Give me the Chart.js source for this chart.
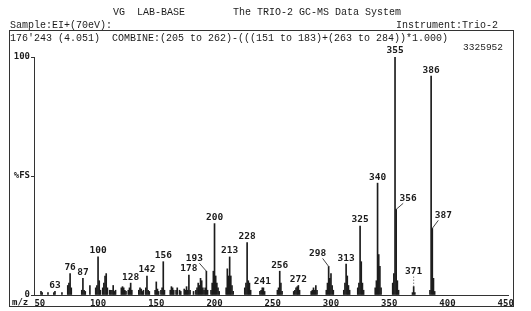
<!DOCTYPE html>
<html>
<head>
<meta charset="utf-8">
<script src="https://cdn.jsdelivr.net/npm/chart.js@4.4.0/dist/chart.umd.min.js"></script>
<style>
  html, body { margin: 0; padding: 0; background: #fff; }
  canvas { display: block; }
</style>
</head>
<body>
<canvas id="spectrum" width="531" height="311"></canvas>
<script>
// m/z of every peak and its relative intensity (% of full scale)
const mzValues = [
  51, 52, 57, 62, 63, 69, 74, 75, 76, 77, 86, 87, 88, 89, 93, 98, 99, 100, 101, 102,
  104, 105, 106, 107, 108, 110, 111, 112, 113, 114, 115, 120, 121, 122, 123, 124, 126, 127, 128, 129,
  135, 136, 137, 138, 139, 141, 142, 143, 144, 149, 150, 151, 152, 154, 155, 156, 157, 162, 163, 164,
  165, 167, 168, 170, 171, 174, 175, 176, 177, 178, 179, 182, 184, 185, 186, 187, 188, 189, 190, 191,
  192, 193, 194, 197, 198, 199, 200, 201, 202, 203, 204, 210, 211, 212, 213, 214, 215, 216, 226, 227,
  228, 229, 230, 231, 239, 240, 241, 242, 243, 254, 255, 256, 257, 258, 268, 269, 270, 271, 272, 273,
  283, 284, 285, 286, 287, 288, 296, 297, 298, 299, 300, 301, 302, 311, 312, 313, 314, 315, 316, 323,
  324, 325, 326, 327, 328, 338, 339, 340, 341, 342, 343, 353, 354, 355, 356, 357, 358, 370, 371, 372,
  385, 386, 387, 388, 389
];
const intensities = [
  1.5, 1, 1, 1, 1.5, 1, 4, 5, 9, 3, 2, 7, 2, 1.5, 4, 3, 4, 16, 6, 2,
  3, 5, 8, 9, 3, 2, 2, 2, 4, 1.5, 2, 3, 3.5, 3, 2, 1.5, 2, 3, 5, 2,
  2, 3, 2.5, 1.5, 2, 3, 8, 2, 1.5, 2, 5.5, 2.5, 1.5, 2, 3, 14, 2, 2, 3.5, 3,
  2, 2, 3, 2, 1.5, 2.5, 2, 3.5, 2, 8.4, 2, 1.5, 2, 3, 5, 4, 7, 6, 3, 2,
  3, 10, 2, 2, 5, 10, 30, 8, 5, 3, 1.5, 3, 11, 8, 16, 8, 4, 1.5, 3, 5,
  22, 6, 5, 2, 1.5, 2, 3, 3, 1.5, 2, 3, 10, 5, 1.5, 1.5, 2, 3, 3.5, 4, 2,
  1.5, 2, 3, 2, 4, 2, 2, 5, 12, 7, 9, 4, 2, 2, 5, 13, 8, 4, 2, 3,
  5, 29, 14, 5, 2, 3, 6, 47, 17, 12, 3, 5, 9, 100, 36, 6, 2, 1, 3.5, 1,
  2, 92, 28, 7, 1.5
];
// peaks that carry a printed m/z label
const labelledPeaks = [63, 76, 87, 100, 128, 142, 156, 178, 193, 200, 213, 228, 241, 256, 272, 298, 313, 325, 340, 355, 356, 371, 386, 387];
const xTickValues = [50, 100, 150, 200, 250, 300, 350, 400, 450];
const yTickValues = [0, 50, 100];
const yTickLabels = ['0', '%FS', '100'];

const headerTitle = 'VG  LAB-BASE';
const headerSystem = 'The TRIO-2 GC-MS Data System';
const sampleText = 'Sample:EI+(70eV):';
const instrumentText = 'Instrument:Trio-2';
const scanText = "176'243 (4.051)  COMBINE:(205 to 262)-(((151 to 183)+(263 to 284))*1.000)";
const fullScaleText = '3325952';

const ink = '#1c1c1c';
const mono = '"Liberation Mono", "DejaVu Sans Mono", monospace';
const smallFont = { family: '"DejaVu Sans Mono", monospace', size: 9, weight: 'bold' };
const peakFont = 'bold 9.5px "DejaVu Sans Mono", monospace';

// labels that are pushed away from their peak, joined by a leader line
const labelNudge = {
  193: { dx: -12, dy: -7, leader: 'solid' },
  298: { dx: -11, dy: -7, leader: 'solid' },
  356: { dx: 12, dy: -5, leader: 'solid' },
  387: { dx: 11, dy: -7, leader: 'solid' },
  371: { dx: 0, dy: -9, leader: 'dotted' },
};

const decorations = {
  id: 'decorations',
  afterDraw(chart) {
    const c = chart.ctx;
    c.save();
    c.fillStyle = ink;
    c.textBaseline = 'middle';
    c.font = '10px ' + mono;
    c.textAlign = 'left';
    c.fillText(headerTitle, 113, 12);
    c.fillText(headerSystem, 233, 12);
    c.fillText(sampleText, 10, 25);
    c.fillText(scanText, 10, 38);
    c.textAlign = 'right';
    c.fillText(instrumentText, 498, 25);
    c.font = '9.5px ' + mono;
    c.fillText(fullScaleText, 503, 47);

    // frame around the plot
    c.strokeStyle = '#333';
    c.lineWidth = 1;
    c.strokeRect(9.5, 30.5, 504, 276);

    c.font = 'bold 9px "DejaVu Sans Mono", monospace';
    c.textAlign = 'left';
    c.fillText('m/z', 12, 303);
    c.restore();
  },
  afterDatasetsDraw(chart) {
    const c = chart.ctx;
    const xs = chart.scales.x;
    const ys = chart.scales.y;
    c.save();
    c.fillStyle = ink;
    c.strokeStyle = '#444';
    c.lineWidth = 1;
    c.font = peakFont;
    c.textAlign = 'center';
    c.textBaseline = 'middle';
    labelledPeaks.forEach(m => {
      const v = intensities[mzValues.indexOf(m)];
      const px = xs.getPixelForValue(m);
      const py = ys.getPixelForValue(v);
      const n = labelNudge[m];
      if (n) {
        const lx = px + n.dx;
        const ly = py - 6 + n.dy;
        c.fillText(String(m), lx, ly);
        c.beginPath();
        if (n.leader === 'dotted') c.setLineDash([1, 2]);
        c.moveTo(lx + (n.dx < 0 ? 5 : n.dx > 0 ? -5 : 0), ly + 5);
        c.lineTo(px, py);
        c.stroke();
        c.setLineDash([]);
      } else {
        c.fillText(String(m), px, py - 6);
      }
    });
    c.restore();
  }
};

const ctx = document.getElementById('spectrum').getContext('2d');
new Chart(ctx, {
  type: 'bar',
  data: {
    datasets: [{
      data: mzValues.map((m, i) => ({ x: m, y: intensities[i] })),
      backgroundColor: ink,
      barThickness: 1,
      grouped: false,
    }],
  },
  options: {
    responsive: false,
    animation: false,
    layout: { padding: { top: 57, right: 23, left: 0, bottom: 0 } },
    plugins: {
      legend: { display: false },
      tooltip: { enabled: false },
    },
    scales: {
      x: {
        type: 'linear',
        min: 45,
        max: 452,
        offset: false,
        afterBuildTicks: s => { s.ticks = xTickValues.map(v => ({ value: v })); },
        afterFit: s => { s.height = 16; },
        grid: { display: false, drawTicks: false },
        border: { color: '#333', width: 1 },
        ticks: { font: smallFont, color: ink, padding: 3, maxRotation: 0, autoSkip: false },
      },
      y: {
        min: 0,
        max: 100,
        afterBuildTicks: s => { s.ticks = yTickValues.map(v => ({ value: v })); },
        afterFit: s => { s.width = 34; },
        grid: { drawOnChartArea: false, tickLength: 3, color: '#333' },
        border: { color: '#333', width: 1 },
        ticks: {
          font: smallFont,
          color: ink,
          padding: 1,
          callback: v => yTickLabels[yTickValues.indexOf(v)],
        },
      },
    },
  },
  plugins: [decorations],
});
</script>
</body>
</html>
